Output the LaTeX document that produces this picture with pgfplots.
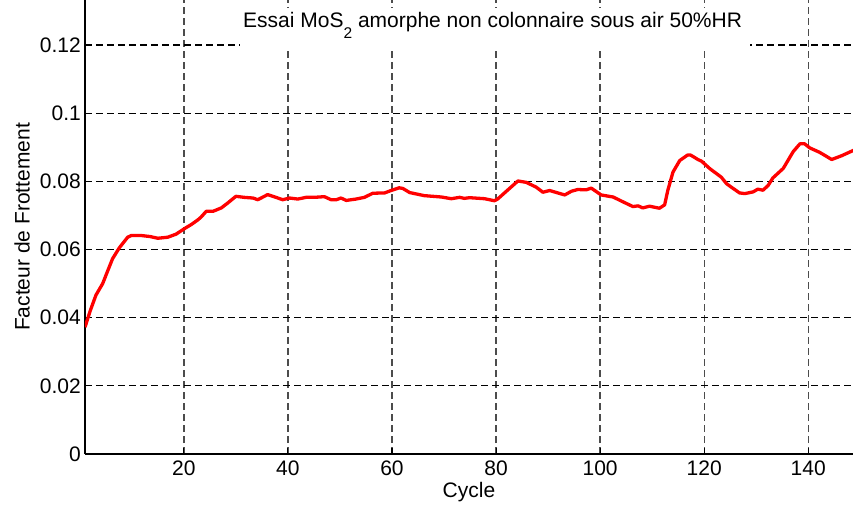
\documentclass[border=0pt]{standalone}
\usepackage{pgfplots}
\pgfplotsset{compat=1.18}
\usepackage{fontspec}
\setmainfont{Liberation Sans}

\newcommand{\lblfont}{\fontsize{21bp}{25bp}\selectfont}

\begin{document}
\begin{tikzpicture}
\begin{axis}[
  at={(0,0)}, anchor=south west,
  scale only axis,
  width=768bp, height=454bp,
  xmin=1, xmax=148.6,
  ymin=0, ymax=0.1332,
  axis lines*=left,
  axis line style={black, line width=1.3bp},
  tick align=inside,
  major tick length=6bp,
  tick style={black, line width=1.1bp},
  xtick={20,40,60,80,100,120,140},
  xticklabels={20,40,60,80,100,120,140},
  ytick={0,0.02,0.04,0.06,0.08,0.1,0.12},
  yticklabels={0,0.02,0.04,0.06,0.08,0.1,0.12},
  xmajorgrids, ymajorgrids,
  x grid style={black!70, line width=1.3bp, dash pattern=on 7bp off 4bp},
  y grid style={black, line width=1.3bp, dash pattern=on 7bp off 4bp},
  xticklabel style={font=\lblfont, inner sep=0pt, anchor=base, yshift=-21.7bp},
  yticklabel style={font=\lblfont, inner sep=0pt, anchor=east, xshift=-4bp},
  xlabel={Cycle},
  ylabel={Facteur de Frottement},
  every axis x label/.style={at={(axis description cs:0.5,0)}, anchor=base, yshift=-43.7bp, font=\lblfont},
  every axis y label/.style={at={([xshift=-63bp]axis description cs:0,0.5)}, rotate=90, anchor=center, font=\lblfont},
]
\addplot[red, line width=3.3bp, line join=round] coordinates {
(1,0.0372) (2,0.0420) (3.1,0.0466) (4.4,0.0500) (5.3,0.0535) (6.3,0.0573)
(7.6,0.0605) (9.2,0.0636) (9.9,0.0641) (11.8,0.0641) (13.5,0.0638) (15,0.0633)
(16.9,0.0636) (18.5,0.0645) (20.1,0.0661) (21.5,0.0674) (22.7,0.0687) (23.3,0.0695)
(24.3,0.0712) (25.6,0.0712) (27.2,0.0722) (28.4,0.0736) (30,0.0756) (31.6,0.0753)
(33.3,0.0751) (34.2,0.0746) (36.1,0.0761) (37.5,0.0754) (39,0.0746) (40.3,0.0751)
(41.9,0.0748) (43.5,0.0753) (45.1,0.0753) (47,0.0755) (48.3,0.0746) (49.3,0.0746)
(50.2,0.0751) (51.2,0.0744) (53.1,0.0748) (54.7,0.0753) (56.3,0.0765) (58.6,0.0766)
(59.8,0.0773) (61.4,0.0781) (62.1,0.0779) (63.4,0.0767) (66.2,0.0758) (69.5,0.0754)
(71.4,0.0749) (73,0.0753) (73.9,0.0750) (74.9,0.0752) (77.8,0.0749) (79.7,0.0743)
(80.3,0.0748) (84.2,0.0801) (85.8,0.0797) (87.7,0.0783) (89,0.0768) (90.3,0.0773)
(93.2,0.0760) (94.5,0.0771) (95.7,0.0776) (97.3,0.0775) (98.3,0.0780) (100.2,0.0760)
(102.5,0.0754) (104.1,0.0742) (106.3,0.0726) (107.3,0.0728) (108.2,0.0722) (109.5,0.0727)
(111.4,0.0721) (112.4,0.0731) (113,0.0773) (114,0.0827) (115.3,0.0861) (116.8,0.0877)
(117.4,0.0877) (118.8,0.0864) (119.5,0.0859) (121.1,0.0837) (123.3,0.0812) (124.3,0.0793)
(125.2,0.0783) (126.8,0.0766) (127.8,0.0764) (129.4,0.0769) (130.3,0.0777) (131.3,0.0774)
(132.3,0.0788) (133.2,0.0810) (135.2,0.0838) (137.1,0.0887) (138.4,0.0910) (139.3,0.0910)
(140.3,0.0898) (142.2,0.0885) (144.5,0.0864) (146.4,0.0875) (149,0.0893)
};
% title box over the grid
\fill[white] (rel axis cs:0.2018,0.8965) rectangle (rel axis cs:0.8659,0.9824);
\node[anchor=base west, inner sep=0pt, font=\lblfont] at (rel axis cs:0.2057,0.939)
  {Essai MoS\raisebox{-11bp}{\fontsize{15.5bp}{15.5bp}\selectfont 2} amorphe non colonnaire sous air 50\%HR};
\end{axis}
\pgfresetboundingbox
\path[use as bounding box] (-85bp,-52bp) rectangle (768bp,454bp);
\end{tikzpicture}
\end{document}
